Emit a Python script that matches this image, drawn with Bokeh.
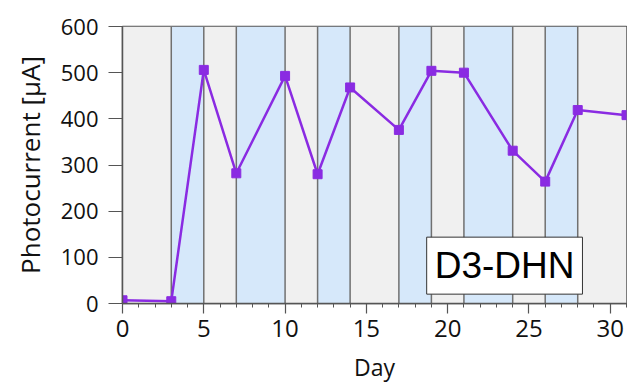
from bokeh.plotting import figure
from bokeh.models import Range1d, Label, FixedTicker
from bokeh.embed import file_html
from bokeh.resources import INLINE

# Data
days = [0, 3, 5, 7, 10, 12, 14, 17, 19, 21, 24, 26, 28, 31]
photocurrent = [7, 5, 506, 282, 493, 280, 468, 376, 504, 500, 331, 264, 419, 408]
band_edges = [0, 3, 5, 7, 10, 12, 14, 17, 19, 21, 24, 26, 28, 31]
band_colors = ["#f0f0f0", "#d6e8fa"]
x_ticks = [0, 5, 10, 15, 20, 25, 30]
y_ticks = [0, 100, 200, 300, 400, 500, 600]
sample_label = "D3-DHN"

X_MIN, X_MAX = 0, 31
Y_MIN, Y_MAX = 0, 600

p = figure(width=627, height=386, output_backend="svg", toolbar_location=None,
           x_range=Range1d(X_MIN, X_MAX), y_range=Range1d(Y_MIN, Y_MAX),
           min_border_left=122, min_border_right=1, min_border_top=26,
           min_border_bottom=83)
p.background_fill_color = "white"
p.border_fill_color = "white"
p.xgrid.visible = False
p.ygrid.visible = False
p.outline_line_color = "#555555"
p.outline_line_width = 1.5

# Bands
lefts = band_edges[:-1]
rights = band_edges[1:]
cols = [band_colors[i % 2] for i in range(len(lefts))]
p.quad(left=lefts, right=rights, bottom=Y_MIN, top=Y_MAX, fill_color=cols,
       line_color=None)
inner = band_edges[1:-1]
p.segment(x0=inner, y0=[Y_MIN] * len(inner), x1=inner, y1=[Y_MAX] * len(inner),
          line_color="#707070", line_width=1.5)

# Series
purple = "#8a2be2"
p.line(days, photocurrent, line_color=purple, line_width=2.5)
p.scatter(days, photocurrent, marker="square", size=9, fill_color=purple,
          line_color=purple)

# Label box
lab = Label(x=23.5, y=82, text=sample_label, text_align="center",
            text_baseline="middle", text_font="Liberation Sans",
            text_font_size="37px", text_color="black",
            background_fill_color="white", border_line_color="#333333",
            border_line_width=1, padding=8)
p.add_layout(lab)

# Axes
p.xaxis.ticker = FixedTicker(ticks=x_ticks, minor_ticks=list(range(X_MIN, X_MAX + 1)))
p.yaxis.ticker = FixedTicker(ticks=y_ticks)
for ax in (p.xaxis[0], p.yaxis[0]):
    ax.axis_line_color = "#555555"
    ax.axis_line_width = 1.5
    ax.major_tick_line_color = "#555555"
    ax.major_tick_line_width = 1.2
    ax.minor_tick_line_color = "#555555"
    ax.major_tick_in = 0
    ax.minor_tick_in = 0
    ax.major_label_text_font = "Open Sans"
    ax.major_label_text_color = "#111111"
    ax.axis_label_text_font = "Open Sans"
    ax.axis_label_text_font_style = "normal"
    ax.axis_label_text_color = "#111111"

p.xaxis.axis_label = "Day"
p.xaxis.major_tick_out = 10
p.xaxis.minor_tick_out = 4
p.xaxis.major_label_text_font_size = "24px"
p.xaxis.axis_label_text_font_size = "23px"
p.xaxis.major_label_standoff = 6
p.xaxis.axis_label_standoff = 11

p.yaxis.axis_label = "Photocurrent [μA]"
p.yaxis.major_tick_out = 14
p.yaxis.minor_tick_out = 0
p.yaxis.major_label_text_font_size = "22px"
p.yaxis.axis_label_text_font_size = "26px"
p.yaxis.major_label_standoff = 10
p.yaxis.axis_label_standoff = 10

open("out.html", "w").write(file_html(p, INLINE))
